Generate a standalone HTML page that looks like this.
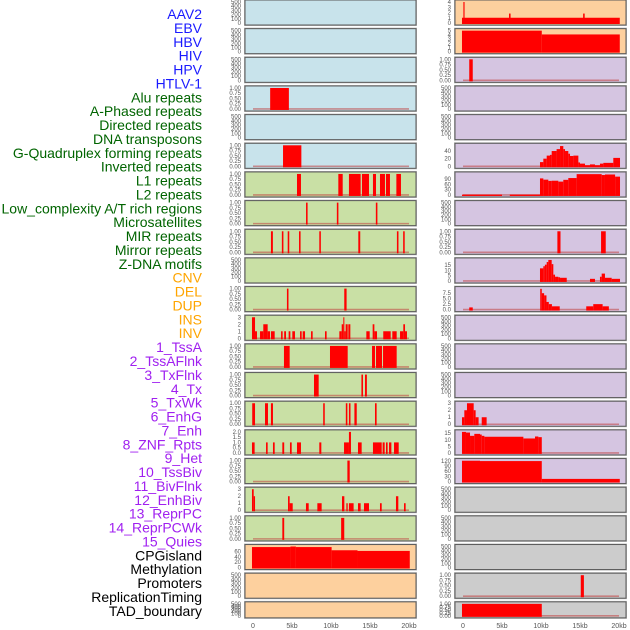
<!DOCTYPE html>
<html><head><meta charset="utf-8"><style>
html,body{margin:0;padding:0;background:#fff;}
svg{display:block;font-family:"Liberation Sans",sans-serif;}
</style></head><body>
<svg id="chart" width="630" height="630" viewBox="0 0 630 630" xmlns="http://www.w3.org/2000/svg"></svg>
<script>
const trackLabels = ["AAV2","EBV","HBV","HIV","HPV","HTLV-1","Alu repeats","A-Phased repeats","Directed repeats","DNA transposons","G-Quadruplex forming repeats","Inverted repeats","L1 repeats","L2 repeats","Low_complexity A/T rich regions","Microsatellites","MIR repeats","Mirror repeats","Z-DNA motifs","CNV","DEL","DUP","INS","INV","1_TssA","2_TssAFlnk","3_TxFlnk","4_Tx","5_TxWk","6_EnhG","7_Enh","8_ZNF_Rpts","9_Het","10_TssBiv","11_BivFlnk","12_EnhBiv","13_ReprPC","14_ReprPCWk","15_Quies","CPGisland","Methylation","Promoters","ReplicationTiming","TAD_boundary"];
const labelGroups = ["viral","viral","viral","viral","viral","viral","rep","rep","rep","rep","rep","rep","rep","rep","rep","rep","rep","rep","rep","sv","sv","sv","sv","sv","hmm","hmm","hmm","hmm","hmm","hmm","hmm","hmm","hmm","hmm","hmm","hmm","hmm","hmm","hmm","oth","oth","oth","oth","oth"];
const xTickLabels = ["0","5kb","10kb","15kb","20kb"];
const xTickValues = [0,5,10,15,20];

const emptyTicks = ["0","100","200","300","400","500"];
const unitTicks = ["0.00","0.25","0.50","0.75","1.00"];

const hivData = [[2.2,4.6,1]];
const htlvData = [[3.85,6.2,1]];
const aluData = [[5.64,6.15,1],[10.94,11.5,1],[12.3,13.8,1],[13.97,14.87,1],[15.38,15.77,1],[16.28,16.92,1],[17.05,17.56,1],[18.38,18.97,1]];
const aPhasedData = [[6.8,7.0,1],[10.75,10.95,1],[15.75,15.95,1]];
const directedData = [[2.3,2.55,1],[3.7,3.9,1],[4.45,4.65,1],[5.9,6.1,1],[8.5,8.7,1],[13.5,13.75,1],[18.45,18.65,1],[19.25,19.45,1]];
const gQuadData = [[4.35,4.55,1],[11.7,12.0,1]];
const invertedData = [[-0.13,0.26,3],[0.26,0.51,1],[0.9,1.32,1],[1.32,1.88,2],[1.88,2.18,1],[2.3,2.78,1],[3.6,3.8,1],[4.0,4.23,1],[4.57,4.79,1],[5.04,5.38,1],[6.03,6.24,1],[6.37,6.67,1],[7.44,7.65,1],[9.23,9.44,1],[11.07,11.37,1],[11.37,11.58,2],[11.58,11.71,3],[11.71,11.88,1],[11.88,12.14,2],[12.22,12.48,2],[14.53,14.96,1],[15.34,15.56,2],[15.56,15.9,1],[16.7,17.65,1],[17.86,18.42,1],[18.85,19.27,1],[19.27,19.49,2],[19.49,19.74,1]];
const l1Data = [[3.97,4.7,1],[9.87,12.14,1],[15.26,15.64,1],[15.77,16.54,1],[16.67,18.42,1]];
const l2Data = [[7.82,8.42,1],[13.9,14.1,1],[14.36,14.6,1]];
const lowCompData = [[-0.1,0.26,1],[1.54,1.92,1],[2.3,2.56,1],[9.0,9.2,1],[11.9,12.1,1],[12.3,12.5,1],[13.0,13.3,1],[15.64,15.85,1]];
const microData = [[-0.13,0.21,1],[1.67,1.88,1],[2.56,2.78,1],[3.76,4.0,1],[4.74,4.96,1],[5.64,6.15,1],[8.5,8.76,1],[11.67,12.3,1],[12.3,12.56,2],[13.46,13.93,1],[15.38,16.5,1],[16.62,16.88,1],[17.05,17.26,1],[17.44,17.74,1],[18.08,18.68,1]];
const mirData = [[12.1,12.4,1]];
const mirrorData = [[-0.13,0.09,3],[0.09,0.26,2],[4.49,4.7,2],[4.7,5.09,1],[6.79,7.14,1],[8.25,8.8,1],[11.41,11.71,2],[11.97,12.14,1],[12.3,12.9,1],[13.46,13.8,1],[14.23,14.87,1],[16.28,16.5,1],[18.33,18.63,2],[19.36,19.57,1]];
const zdnaData = [[3.76,4.0,1],[11.3,11.7,1]];
const cnvData = [[-0.13,4.8,77],[4.8,5.5,79],[5.5,10.08,77],[10.08,13.4,65],[13.4,20.1,62.5]];

const insData = [[-0.13,20.1,1],[0.05,0.2,4],[5.9,6.1,1.8],[15.4,15.6,1.8]];
const invData = [[-0.13,10.1,5],[10.1,20.1,4.1]];
const tssAData = [[0.8,1.25,1]];
const txData = [[9.87,10.3,11],[10.3,10.73,20],[10.73,11.15,28],[11.15,11.37,30],[11.37,12.0,40],[12.0,12.44,45],[12.44,12.86,53],[12.86,13.08,45],[13.08,13.5,40],[13.5,13.72,33],[13.72,14.15,27],[14.15,14.79,28],[14.79,15.0,10],[15.0,15.64,7],[15.64,16.28,3],[16.28,16.92,5],[16.92,17.56,3],[17.56,17.99,7],[17.99,19.27,9],[19.27,20.13,22]];
const txWkData = [[-0.13,5.0,2],[6.0,9.87,2],[9.87,10.3,93],[10.3,10.94,86],[10.94,11.37,79],[11.37,12.22,80],[12.22,12.86,75],[12.86,13.5,85],[13.5,14.57,95],[14.57,17.78,117],[17.78,18.2,112],[18.2,19.5,115],[19.5,20.13,103]];
const enhData = [[12.1,12.5,1],[17.7,18.3,1]];
const znfData = [[9.87,10.3,12],[10.3,10.5,14],[10.5,10.73,15.5],[10.73,10.94,18],[10.94,11.37,20],[11.37,11.58,16],[11.58,11.8,6],[11.8,12.22,4],[12.22,12.44,3.5],[12.44,13.3,3],[16.28,16.92,2],[17.56,17.78,4],[17.78,18.2,7],[18.2,19.06,3],[19.06,20.13,2]];
const hetData = [[0.8,1.25,1],[9.9,10.1,9.5],[10.1,10.4,7.5],[10.4,10.7,6.5],[10.7,11.0,3.5],[11.0,11.4,2.5],[11.4,12.4,1.5],[15.8,16.7,1.5],[16.7,17.9,2.5],[17.9,18.7,1.5]];
const reprPCData = [[-0.13,0.17,1],[0.17,0.51,2],[0.51,1.37,3],[1.37,1.62,2],[1.62,2.0,1],[2.4,3.03,1]];
const reprPCWkData = [[-0.13,0.38,16],[0.38,0.9,15.5],[0.9,1.45,13],[1.45,2.18,14.5],[2.18,2.4,14],[2.4,2.74,13],[2.74,7.74,12.3],[7.74,9.23,11],[9.23,9.66,12.5],[9.66,10.1,12]];
const quiesData = [[-0.13,2.18,121],[2.18,10.1,119],[10.1,20.1,15.5]];
const promData = [[15.1,15.5,1]];
const tadData = [[-0.13,10.1,1]];

const panels = [
 [0,0,"blue",null,emptyTicks,null],[0,1,"blue",null,emptyTicks,null],[0,2,"blue",null,emptyTicks,null],
 [0,3,"blue",hivData,unitTicks,1],[0,4,"blue",null,emptyTicks,null],[0,5,"blue",htlvData,unitTicks,1],
 [0,6,"green",aluData,unitTicks,1],[0,7,"green",aPhasedData,unitTicks,1],[0,8,"green",directedData,unitTicks,1],
 [0,9,"green",null,emptyTicks,null],[0,10,"green",gQuadData,unitTicks,1],[0,11,"green",invertedData,["0","1","2","3"],3],
 [0,12,"green",l1Data,unitTicks,1],[0,13,"green",l2Data,unitTicks,1],[0,14,"green",lowCompData,unitTicks,1],
 [0,15,"green",microData,["0.0","0.5","1.0","1.5","2.0"],2],[0,16,"green",mirData,unitTicks,1],[0,17,"green",mirrorData,["0","1","2","3"],3],
 [0,18,"green",zdnaData,unitTicks,1],[0,19,"orange",cnvData,["0","20","40","60"],79],[0,20,"orange",null,emptyTicks,null],[0,21,"orange",null,emptyTicks,null],
 [1,0,"orange",insData,["0","1","2","3","4"],4],[1,1,"orange",invData,["0","1","2","3","4","5"],5],[1,2,"purple",tssAData,unitTicks,1],
 [1,3,"purple",null,emptyTicks,null],[1,4,"purple",null,emptyTicks,null],[1,5,"purple",txData,["0","20","40"],55],
 [1,6,"purple",txWkData,["0","30","60","90"],118],[1,7,"purple",null,emptyTicks,null],[1,8,"purple",enhData,unitTicks,1],
 [1,9,"purple",znfData,["0","5","10","15"],20],[1,10,"purple",hetData,["0.0","2.5","5.0","7.5"],9.6],[1,11,"purple",null,emptyTicks,null],
 [1,12,"purple",null,emptyTicks,null],[1,13,"purple",null,emptyTicks,null],[1,14,"purple",reprPCData,["0","1","2","3"],3],
 [1,15,"purple",reprPCWkData,["0","5","10","15"],16],[1,16,"purple",quiesData,["0","30","60","90","120"],122],
 [1,17,"grey",null,emptyTicks,null],[1,18,"grey",null,emptyTicks,null],[1,19,"grey",null,emptyTicks,null],
 [1,20,"grey",promData,unitTicks,1],[1,21,"grey",tadData,unitTicks,1]
];

const NS = "http://www.w3.org/2000/svg";
const svg = document.getElementById("chart");
const bgColors = {blue:"#c8e3eb",green:"#c9e0a5",orange:"#fdd09e",purple:"#d5c5e1",grey:"#cccccc"};
const labelColors = {viral:"#1a1aff",rep:"#006400",sv:"#ffa500",hmm:"#a020f0",oth:"#000000"};
const colX = [245,455];
const panelW = 171;
function xScale(col, kb){ return colX[col] + 8 + kb*7.8; }
function rowTop(r){ return r*28.66; }
function rowH(r){ return r===21 ? 16 : 25; }
function mk(tag, attrs){ const e=document.createElementNS(NS,tag); for(const k in attrs) e.setAttribute(k,attrs[k]); return e; }

trackLabels.forEach((t,i)=>{
  const el = mk("text",{x:202,y:19+i*13.88,"text-anchor":"end","font-size":"14",fill:labelColors[labelGroups[i]]});
  el.textContent = t;
  
  
  svg.appendChild(el);
});

panels.forEach(p=>{
  const [col,row,bg,data,ticks,dmax0] = p;
  const top=rowTop(row), h=rowH(row), x0=colX[col];
  const g = mk("g",{});
  
  
  svg.appendChild(g);
  const frame = mk("rect",{x:x0-0.5,y:top-0.5,width:panelW+1,height:h+1,fill:"none",stroke:"#bbb","stroke-width":1});
  
  
  g.appendChild(frame);
  const r = mk("rect",{x:x0,y:top,width:panelW,height:h,fill:bgColors[bg],stroke:"#5a5a5a","stroke-width":1});
  
  
  g.appendChild(r);
  const nums = ticks.map(Number);
  const dmax = dmax0===null ? nums[nums.length-1] : dmax0;
  const yb = top+h-2, yt = top+2;
  const yScale = v => yb - (v/dmax)*(yb-yt);
  ticks.forEach((t,i)=>{
    const tx = mk("text",{x:x0-4,y:yScale(nums[i])+2,"text-anchor":"end","font-size":"6",fill:"#555"});
    tx.textContent = t;
    
    
    g.appendChild(tx);
  });
  if(data){
    const bl = mk("line",{x1:xScale(col,0),x2:xScale(col,20),y1:yb,y2:yb,stroke:"#c04040","stroke-opacity":0.55,"stroke-width":1.6});
    
    
    g.appendChild(bl);
    data.forEach(s=>{
      const xa=xScale(col,s[0]), xb=xScale(col,s[1]);
      const yv=Math.max(top+0.5, yScale(s[2]));
      const b = mk("rect",{x:xa,y:yv,width:Math.max(1,xb-xa),height:yb-yv+1,fill:"#ff0000"});
      
      
      g.appendChild(b);
    });
  }
});

[0,1].forEach(col=>{
  xTickValues.forEach((v,i)=>{
    const t = mk("text",{x:xScale(col,v),y:628,"text-anchor":"middle","font-size":"7",fill:"#555"});
    t.textContent = xTickLabels[i];
    
    
    svg.appendChild(t);
  });
});
</script>
</body></html>
